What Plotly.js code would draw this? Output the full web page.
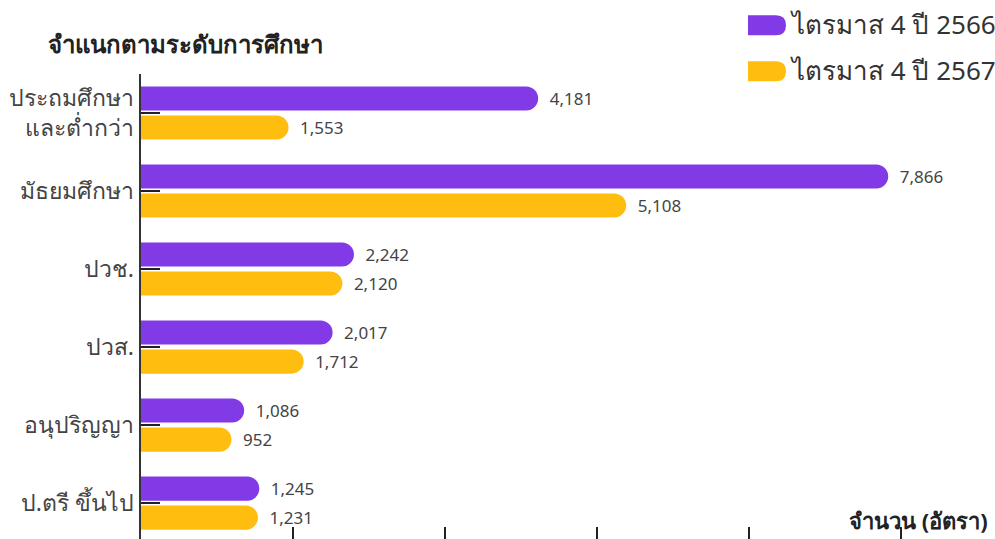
<!DOCTYPE html>
<html>
<head>
<meta charset="utf-8">
<script src="https://cdn.plot.ly/plotly-3.0.1.min.js"></script>
<style>html,body{margin:0;padding:0;background:#fff;}#chart{width:995px;height:539px;}</style>
</head>
<body>
<div id="chart"></div>
<script>
const categories = ['ประถมศึกษา<br>และต่ำกว่า', 'มัธยมศึกษา', 'ปวช.', 'ปวส.', 'อนุปริญญา', 'ป.ตรี ขึ้นไป'];
const seriesNames = ['ไตรมาส 4 ปี 2566', 'ไตรมาส 4 ปี 2567'];
const values2566 = [4181, 7866, 2242, 2017, 1086, 1245];
const values2567 = [1553, 5108, 2120, 1712, 952, 1231];
const colors = ['#823ae6', '#ffbe0f'];
const chartTitle = 'จำแนกตามระดับการศึกษา';
const xTitle = 'จำนวน (อัตรา)';

const FONT = 'Noto Sans, DejaVu Sans, sans-serif';

function barTrace(name, vals, color) {
  return {
    type: 'bar', orientation: 'h', name: name,
    y: categories, x: vals,
    marker: {color: color, cornerradius: 12},
    texttemplate: '\u2002%{x:,}', textposition: 'outside', cliponaxis: false,
    textfont: {family: FONT, size: 17, color: '#444'},
    hoverinfo: 'none'
  };
}

const data = [barTrace(seriesNames[0], values2566, colors[0]), barTrace(seriesNames[1], values2567, colors[1])];

const iconPath = 'M -19 -10 L 9 -10 Q 19 -10 19 0 Q 19 10 9 10 L -19 10 Z';
const legendY = [1.105, 1.006];
const shapes = seriesNames.map((n, i) => ({
  type: 'path', xref: 'paper', yref: 'paper', xsizemode: 'pixel', ysizemode: 'pixel',
  xanchor: 0.733, yanchor: legendY[i], path: iconPath,
  fillcolor: colors[i], line: {width: 0}
}));
const annotations = seriesNames.map((n, i) => ({
  xref: 'paper', yref: 'paper', x: 0.758, y: legendY[i] + 0.003, xanchor: 'left', yanchor: 'middle',
  text: n, showarrow: false, font: {family: FONT, size: 26, color: '#333'}
}));
annotations.push({
  xref: 'paper', yref: 'paper', x: 0.994, y: 0.04, xanchor: 'right', yanchor: 'middle',
  text: '<b>' + xTitle + '</b>', showarrow: false, font: {family: FONT, size: 22, color: '#222'}
});

const layout = {
  width: 995, height: 539,
  margin: {l: 141, r: 0, t: 74, b: 0},
  paper_bgcolor: '#fff', plot_bgcolor: '#fff',
  showlegend: false,
  barmode: 'group', bargap: 0.256, bargroupgap: 0.17,
  title: {text: '<b>' + chartTitle + '</b>', xref: 'container', yref: 'container',
          x: 0.048, xanchor: 'left', y: 0.917, yanchor: 'middle',
          font: {family: FONT, size: 24, color: '#222'}},
  xaxis: {range: [0, 8990], tick0: 0, dtick: 1600, showgrid: false, zeroline: false,
          showline: false, ticks: 'inside', ticklen: 12, tickwidth: 1.5, tickcolor: '#222',
          showticklabels: false, fixedrange: true},
  yaxis: {type: 'category', range: [5.46, -0.5], showgrid: false, zeroline: false,
          showline: true, linecolor: '#333', linewidth: 2.5,
          ticks: 'inside', ticklen: 19, tickwidth: 2, tickcolor: '#222',
          tickfont: {family: FONT, size: 23, color: '#444'}, fixedrange: true},
  shapes: shapes,
  annotations: annotations
};

Plotly.newPlot('chart', data, layout, {displayModeBar: false, staticPlot: true});
</script>
</body>
</html>
